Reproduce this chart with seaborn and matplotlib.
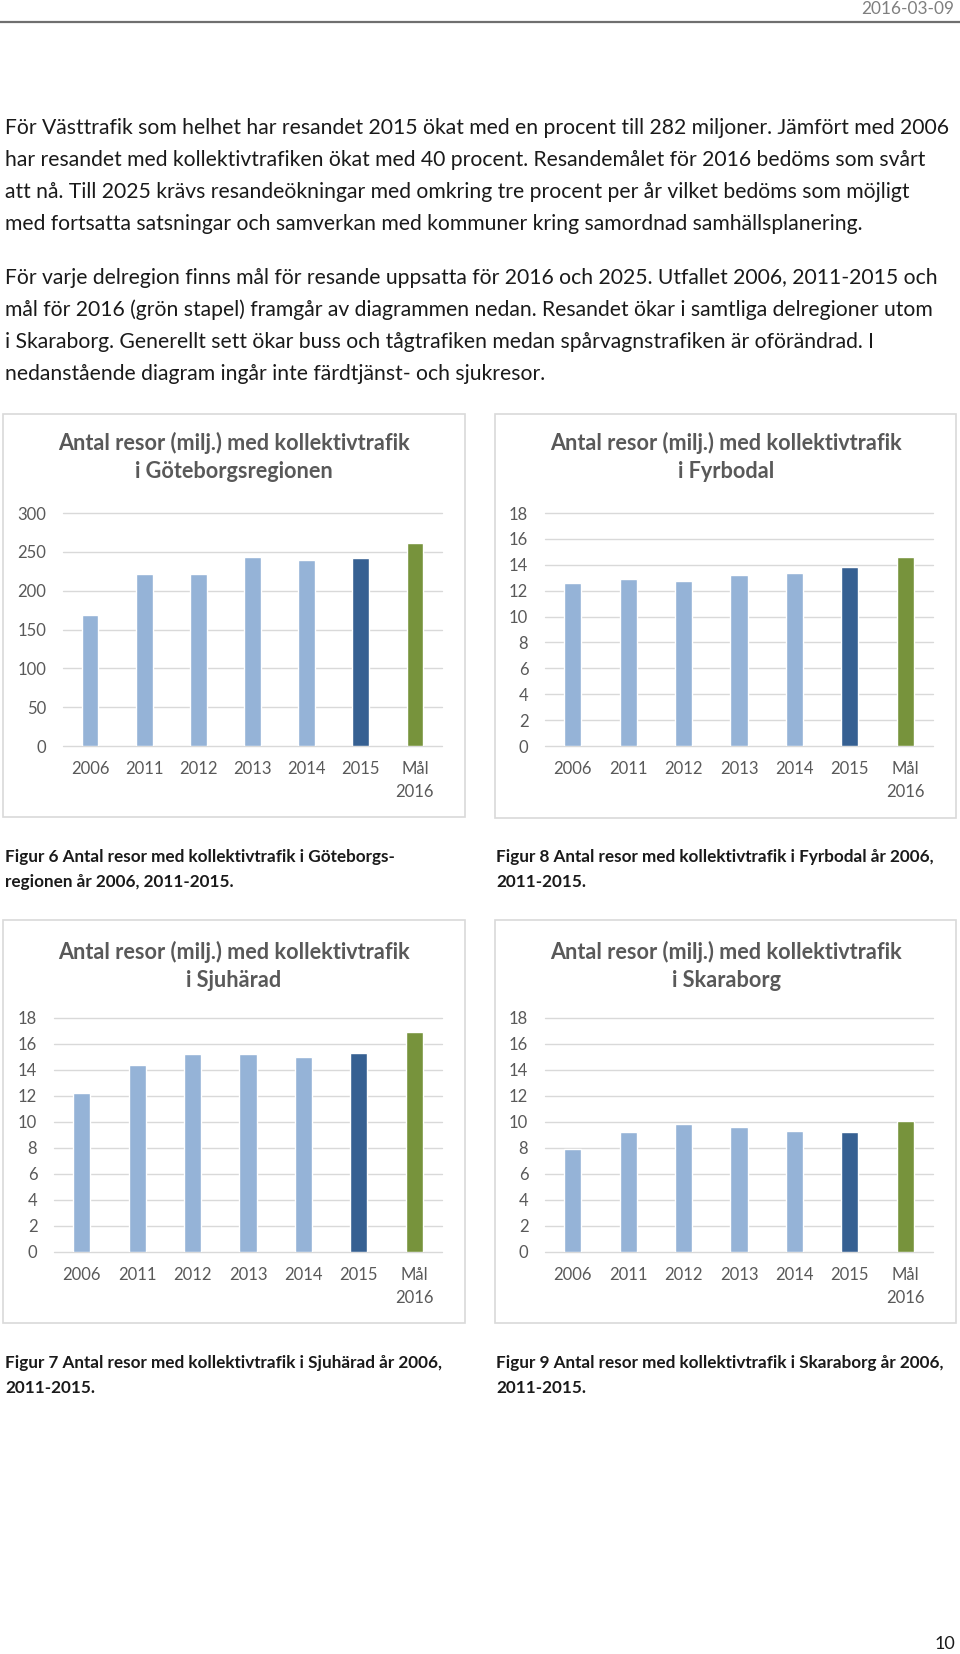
import matplotlib
matplotlib.use("Agg")
import matplotlib.pyplot as plt
from matplotlib.patches import Rectangle
from matplotlib.lines import Line2D
import pandas as pd
import seaborn as sns

# data (millions of trips)
YEARS = ["2006", "2011", "2012", "2013", "2014", "2015", "Mål\n2016"]
GOTEBORG = [169, 221, 222, 243, 239, 242, 262]
FYRBODAL = [12.6, 12.9, 12.75, 13.2, 13.4, 13.8, 14.6]
SJUHARAD = [12.2, 14.4, 15.25, 15.2, 15.0, 15.3, 16.9]
SKARABORG = [7.9, 9.25, 9.85, 9.6, 9.3, 9.2, 10.1]

BAR_COLORS = ["#95B3D7"] * 5 + ["#366092", "#77933C"]

TITLE_LINE1 = "Antal resor (milj.) med kollektivtrafik"
REGIONS = ["i Göteborgsregionen", "i Fyrbodal", "i Sjuhärad", "i Skaraborg"]

PARA1 = [
    "För Västtrafik som helhet har resandet 2015 ökat med en procent till 282 miljoner. Jämfört med 2006",
    "har resandet med kollektivtrafiken ökat med 40 procent. Resandemålet för 2016 bedöms som svårt",
    "att nå. Till 2025 krävs resandeökningar med omkring tre procent per år vilket bedöms som möjligt",
    "med fortsatta satsningar och samverkan med kommuner kring samordnad samhällsplanering.",
]
PARA2 = [
    "För varje delregion finns mål för resande uppsatta för 2016 och 2025. Utfallet 2006, 2011-2015 och",
    "mål för 2016 (grön stapel) framgår av diagrammen nedan. Resandet ökar i samtliga delregioner utom",
    "i Skaraborg. Generellt sett ökar buss och tågtrafiken medan spårvagnstrafiken är oförändrad. I",
    "nedanstående diagram ingår inte färdtjänst- och sjukresor.",
]
CAPTIONS = [
    ["Figur 6 Antal resor med kollektivtrafik i Göteborgs-", "regionen år 2006, 2011-2015."],
    ["Figur 8 Antal resor med kollektivtrafik i Fyrbodal år 2006,", "2011-2015."],
    ["Figur 7 Antal resor med kollektivtrafik i Sjuhärad år 2006,", "2011-2015."],
    ["Figur 9 Antal resor med kollektivtrafik i Skaraborg år 2006,", "2011-2015."],
]

sns.set_theme(style="white")
plt.rcParams["font.family"] = ["Lato", "DejaVu Sans"]

W, H = 960, 1654
fig = plt.figure(figsize=(W / 100, H / 100), dpi=100)
fig.patch.set_facecolor("white")


def fy(y):
    return 1 - y / H


def box(left, top, right, bottom):
    return [left / W, 1 - bottom / H, (right - left) / W, (bottom - top) / H]


TEXT = "#1a1a1a"
GREY = "#595959"

# page header
fig.text(954 / W, fy(9), "2016-03-09", ha="right", va="center", fontsize=12.4, color="#7F7F7F")
fig.add_artist(Line2D([0, 1], [fy(22), fy(22)], color="#6f6f6f", lw=1.6, transform=fig.transFigure))

# body paragraphs
for i, line in enumerate(PARA1):
    fig.text(5 / W, fy(128 + i * 32), line, ha="left", va="center", fontsize=15.2, color=TEXT)
for i, line in enumerate(PARA2):
    fig.text(5 / W, fy(278 + i * 32), line, ha="left", va="center", fontsize=15.2, color=TEXT)

# chart layout: frame, plot area, title x / y lines
charts = [
    (GOTEBORG, 300, 50, (3, 414, 465, 817), (63, 513, 442, 746), 234, 443),
    (FYRBODAL, 18, 2, (495, 414, 956, 818), (545, 513, 933, 746), 726, 443),
    (SJUHARAD, 18, 2, (3, 920, 465, 1323), (54, 1018, 442, 1252), 234, 952),
    (SKARABORG, 18, 2, (495, 920, 956, 1323), (545, 1018, 933, 1252), 726, 952),
]

for k, (vals, ymax, step, frame, area, tx, ty) in enumerate(charts):
    l, t, r, b = frame
    fig.add_artist(Rectangle((l / W, fy(b)), (r - l) / W, (b - t) / H, transform=fig.transFigure,
                             fill=False, ec="#D9D9D9", lw=1.2))
    fig.text(tx / W, fy(ty), TITLE_LINE1, ha="center", va="center", fontsize=15.6,
             fontweight="bold", color=GREY)
    fig.text(tx / W, fy(ty + 29), REGIONS[k], ha="center", va="center", fontsize=15.6,
             fontweight="bold", color=GREY)

    ax = fig.add_axes(box(*area))
    df = pd.DataFrame({"ar": YEARS, "resor": vals})
    sns.barplot(data=df, x="ar", y="resor", hue="ar", palette=BAR_COLORS, width=0.31,
                saturation=1, legend=False, ax=ax)
    ax.set_ylim(0, ymax)
    ax.set_xlim(-0.5, 6.5)
    ax.set_yticks(range(0, ymax + 1, step))
    ax.yaxis.grid(True, color="#D9D9D9", lw=1)
    ax.xaxis.grid(False)
    ax.set_axisbelow(True)
    for s in ax.spines.values():
        s.set_visible(False)
    for gl in ax.get_ygridlines():
        gl.set_clip_on(False)
    ax.set_xlabel("")
    ax.set_ylabel("")
    ax.tick_params(axis="y", length=0, pad=12, labelsize=12, labelcolor=GREY)
    ax.tick_params(axis="x", length=0, pad=11, labelsize=12, labelcolor=GREY)
    for lab in ax.get_xticklabels():
        lab.set_linespacing(1.55)
    ax.set_facecolor("none")

# figure captions
cap_pos = [(5, 857), (496, 857), (5, 1363), (496, 1363)]
for (cx, cy), lines in zip(cap_pos, CAPTIONS):
    for j, line in enumerate(lines):
        fig.text(cx / W, fy(cy + j * 25), line, ha="left", va="center", fontsize=12.3,
                 fontweight="bold", color=TEXT)

# page number
fig.text(955 / W, fy(1644), "10", ha="right", va="center", fontsize=13, color=TEXT)

fig.savefig("out.png", dpi=100, facecolor="white")
